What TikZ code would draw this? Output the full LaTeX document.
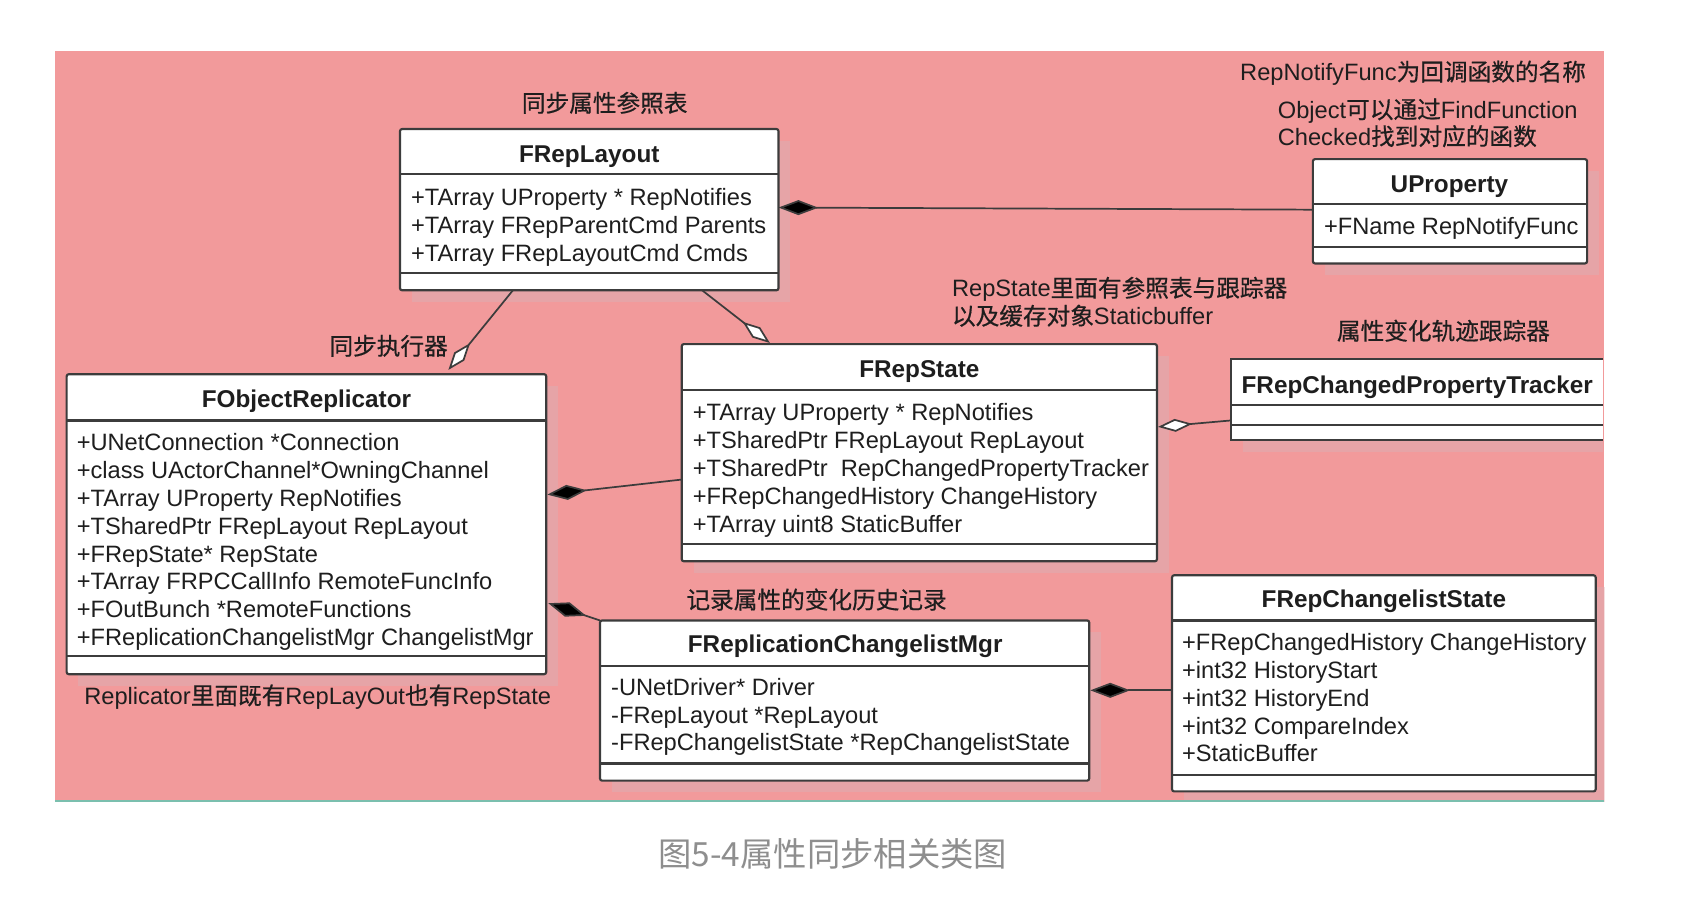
\documentclass[tikz,border=0pt]{standalone}
\usepackage{fontspec}
\setmainfont{Liberation Sans}
\newfontfamily\cjk[FakeBold=0.5]{Noto Sans CJK SC}
\newfontfamily\cjkcap{Noto Sans CJK SC}
\usetikzlibrary{arrows.meta,fit}
\definecolor{bgpink}{HTML}{F29A9B}
\definecolor{shc}{HTML}{E6A4A7}
\definecolor{boxc}{HTML}{3C3C3C}
\definecolor{tealc}{HTML}{7BBFAE}
\definecolor{capc}{HTML}{8E8E8E}
\definecolor{txtc}{HTML}{1E1E1E}
\tikzset{
 cls/.style={draw=boxc, line width=1pt, fill=white, inner sep=0pt, rounded corners=1pt},
 divl/.style={draw=boxc, line width=1pt},
 ttl/.style={font=\fontsize{11.3}{13}\selectfont\bfseries, anchor=base, inner sep=0pt, text=txtc},
 att/.style={font=\fontsize{11}{13}\selectfont, anchor=base west, inner sep=0pt, text=txtc},
 lbl/.style={font=\fontsize{11}{13}\selectfont, anchor=base west, inner sep=0pt, text=txtc},
 conn/.style={draw=boxc, line width=0.8pt},
 comp/.style={conn, {Diamond[length=18.5pt,width=7pt,fill=black]}-},
 aggr/.style={conn, {Diamond[open,fill=white,length=16pt,width=6pt]}-},
}
\newcommand\umlbox[7]{%
 \begin{scope}
 \clip (51,47) rectangle (1492,745);
 \fill[shc] ({#2+11},{#3+11}) rectangle ({#4+11},{#5+11});
 \end{scope}
 \coordinate (#1-nw) at (#2,#3);
 \coordinate (#1-se) at (#4,#5);
 \node[cls, fit=(#1-nw)(#1-se)] (#1) {};
 \draw[divl] (#2,#6) -- (#4,#6);
 \draw[divl] (#2,#7) -- (#4,#7);
}
\begin{document}
\begin{tikzpicture}[x=0.5pt,y=-0.5pt]
\useasboundingbox (0,0) rectangle (1568,835);
\fill[white] (0,0) rectangle (1568,835);
\fill[bgpink] (51,47) rectangle (1492,745);

% classes
\umlbox{rl}{372}{120}{724}{270}{162}{254}
\node[ttl] (rl-t) at (548,151) {FRepLayout};
\node[att] (rl-a1) at (382,191) {+TArray UProperty * RepNotifies};
\node[att] (rl-a2) at (382,217) {+TArray FRepParentCmd Parents};
\node[att] (rl-a3) at (382,243) {+TArray FRepLayoutCmd Cmds};

\umlbox{up}{1221}{148}{1476}{245}{190}{230}
\node[ttl] (up-t) at (1348,179) {UProperty};
\node[att] (up-a1) at (1231,218) {+FName RepNotifyFunc};

\umlbox{or}{62}{348}{508}{627}{391}{610}
\node[ttl] (or-t) at (285,379) {FObjectReplicator};
\node[att] (or-a1) at (71,419) {+UNetConnection *Connection};
\node[att] (or-a2) at (71,445) {+class UActorChannel*OwningChannel};
\node[att] (or-a3) at (71,471) {+TArray UProperty RepNotifies};
\node[att] (or-a4) at (71,497) {+TSharedPtr FRepLayout RepLayout};
\node[att] (or-a5) at (71,523) {+FRepState* RepState};
\node[att] (or-a6) at (71,548) {+TArray FRPCCallInfo RemoteFuncInfo};
\node[att] (or-a7) at (71,574) {+FOutBunch *RemoteFunctions};
\node[att] (or-a8) at (71,600) {+FReplicationChangelistMgr ChangelistMgr};

\umlbox{rs}{634}{320}{1076}{522}{363}{506}
\node[ttl] (rs-t) at (855,351) {FRepState};
\node[att] (rs-a1) at (644,391) {+TArray UProperty * RepNotifies};
\node[att] (rs-a2) at (644,417) {+TSharedPtr FRepLayout RepLayout};
\node[att] (rs-a3) at (644,443) {+TSharedPtr\ \ RepChangedPropertyTracker};
\node[att] (rs-a4) at (644,469) {+FRepChangedHistory ChangeHistory};
\node[att] (rs-a5) at (644,495) {+TArray uint8 StaticBuffer};

% tracker (cut at the right edge)
\fill[shc] (1156,345) rectangle (1491,420);
\coordinate (tr-nw) at (1145,334);
\coordinate (tr-se) at (1491,409);
\node[fill=white, inner sep=0pt, fit=(tr-nw)(tr-se)] (tr) {};
\draw[divl] (1491,334) -- (1145,334) -- (1145,409) -- (1491,409);
\draw[divl] (1145,377) -- (1491,377);
\draw[divl] (1145,395) -- (1491,395);
\node[ttl] (tr-t) at (1318,366) {FRepChangedPropertyTracker};

\umlbox{cm}{558}{577}{1013}{726}{619}{710}
\node[ttl] (cm-t) at (786,607) {FReplicationChangelistMgr};
\node[att] (cm-a1) at (568,647) {-UNetDriver* Driver};
\node[att] (cm-a2) at (568,673) {-FRepLayout *RepLayout};
\node[att] (cm-a3) at (568,698) {-FRepChangelistState *RepChangelistState};

\umlbox{cs}{1090}{535}{1484}{736}{577}{721}
\node[ttl] (cs-t) at (1287,565) {FRepChangelistState};
\node[att] (cs-a1) at (1099,605) {+FRepChangedHistory ChangeHistory};
\node[att] (cs-a2) at (1099,631) {+int32 HistoryStart};
\node[att] (cs-a3) at (1099,657) {+int32 HistoryEnd};
\node[att] (cs-a4) at (1099,683) {+int32 CompareIndex};
\node[att] (cs-a5) at (1099,708) {+StaticBuffer};

\draw[tealc, line width=1pt] (51,745) -- (1492,745);

% connectors
\coordinate (c1a) at (724,193);
\coordinate (c1b) at (1221,195);
\draw[comp] (c1a) -- (c1b);

\coordinate (c2a) at (417,344);
\coordinate (c2b) at (477,270);
\draw[aggr] (c2a) -- (c2b);

\coordinate (c3a) at (716,319);
\coordinate (c3b) at (653,270);
\draw[aggr] (c3a) -- (c3b);

\coordinate (c4a) at (1077,397);
\coordinate (c4b) at (1145,391);
\draw[aggr] (c4a) -- (c4b);

\coordinate (c5a) at (509,460);
\coordinate (c5b) at (634,446);
\draw[comp] (c5a) -- (c5b);

\coordinate (c6a) at (510,561);
\coordinate (c6b) at (558,577);
\draw[comp] (c6a) -- (c6b);

\coordinate (c7a) at (1014,642);
\coordinate (c7b) at (1090,642);
\draw[comp] (c7a) -- (c7b);

% labels
\node[lbl] (l1) at (485,104) {\cjk 同步属性参照表};
\node[lbl] (l2) at (1153,75) {RepNotifyFunc{\cjk 为回调函数的名称}};
\node[lbl] (l3) at (1188,110) {Object{\cjk 可以通过}FindFunction};
\node[lbl] (l4) at (1188,135) {Checked{\cjk 找到对应的函数}};
\node[lbl] (l5) at (885,276) {RepState{\cjk 里面有参照表与跟踪器}};
\node[lbl] (l6) at (885,302) {{\cjk 以及缓存对象}Staticbuffer};
\node[lbl] (l7) at (1243,316) {\cjk 属性变化轨迹跟踪器};
\node[lbl] (l8) at (306,330) {\cjk 同步执行器};
\node[lbl] (l9) at (638,566) {\cjk 记录属性的变化历史记录};
\node[lbl] (l10) at (78,655) {Replicator{\cjk 里面既有}RepLayOut{\cjk 也有}RepState};

\node[anchor=base west, inner sep=0pt, font=\cjkcap\fontsize{15.5}{18}\selectfont, text=capc] (cap) at (612,806) {图5-4属性同步相关类图};
\end{tikzpicture}
\end{document}
